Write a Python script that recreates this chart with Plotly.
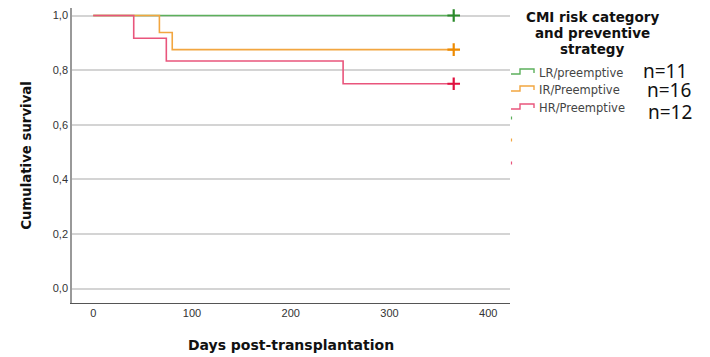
import plotly.graph_objects as go

# ---- data ----
groups = ["LR/preemptive", "IR/Preemptive", "HR/Preemptive"]
n_labels = ["n=11", "n=16", "n=12"]
legend_title = ["CMI risk category", "and preventive", "strategy"]
days_LR = [0, 365]
surv_LR = [1.0, 1.0]
days_IR = [0, 67, 80, 365]
surv_IR = [1.0, 0.9375, 0.875, 0.875]
days_HR = [0, 41, 74, 253, 365]
surv_HR = [1.0, 0.9167, 0.8333, 0.75, 0.75]
censor_day = [365, 365, 365]
censor_surv = [1.0, 0.875, 0.75]
x_ticks = [0, 100, 200, 300, 400]
y_ticks = [0.0, 0.2, 0.4, 0.6, 0.8, 1.0]

line_colors = ["#5cb05c", "#f2a640", "#e9557c"]
mark_colors = ["#2a8a2a", "#ee8a00", "#e0103f"]

series = [(days_LR, surv_LR), (days_IR, surv_IR), (days_HR, surv_HR)]

BOLD = "DejaVu Sans, Liberation Sans, sans-serif"

# page has an 8px body margin; size the figure to fill the window
OFF = 8
W, H = 710 - OFF, 357 - OFF
L, R, T, B = 64, 200, 0, 54
PW, PH = W - L - R, H - T - B

fig = go.Figure()
for i, (d, s) in enumerate(series):
    fig.add_trace(go.Scatter(x=d, y=s, mode="lines", line=dict(color=line_colors[i], width=1.6, shape="hv"),
                             showlegend=False, hoverinfo="skip"))
for i in range(3):
    fig.add_trace(go.Scatter(x=[censor_day[i]], y=[censor_surv[i]], mode="markers",
                             marker=dict(symbol="cross-thin", size=9, line=dict(color=mark_colors[i], width=2.2)),
                             showlegend=False, hoverinfo="skip", cliponaxis=False))

fig.update_layout(
    width=W, height=H,
    margin=dict(l=L, r=R, t=T, b=B, autoexpand=False),
    plot_bgcolor="white", paper_bgcolor="white",
    separators=",.",
    font=dict(family="Liberation Sans, Arial, sans-serif", color="#333"),
    xaxis=dict(range=[-21.5, 422], tickvals=x_ticks, showgrid=False, zeroline=False, automargin=False,
               showline=True, linecolor="#555", linewidth=1, ticks="", tickfont=dict(size=11, color="#333"),
               title=dict(text="<b>Days post-transplantation</b>", font=dict(size=14, color="#111", family=BOLD),
                          standoff=21)),
    yaxis=dict(range=[-0.053, 1.0275], tickvals=y_ticks, tickformat=".1f", showgrid=True, automargin=False,
               gridcolor="#d4d4d4", gridwidth=1.5, zeroline=False, showline=True, linecolor="#999",
               linewidth=1.6, ticks="", tickfont=dict(size=11, color="#333"),
               title=dict(text="<b>Cumulative survival</b>", font=dict(size=13.3, color="#111", family=BOLD),
                          standoff=18)),
)


def px(x):
    return (x - OFF - L) / PW


def py(y):
    return 1 - (y - OFF - T) / PH


# legend title
title_y = [17, 33, 49]
for txt, ty in zip(legend_title, title_y):
    fig.add_annotation(xref="paper", yref="paper", x=px(592), y=py(ty), text=f"<b>{txt}</b>", showarrow=False,
                       font=dict(size=13.5, color="#111", family=BOLD), xanchor="center", yanchor="middle")

# legend rows
row_y = [74, 91, 109]
n_x = [641, 645, 646]
n_y = [71, 90, 112]
cens_y = [118, 140, 163]
for i in range(3):
    yb = row_y[i]
    fig.add_shape(type="path", xref="paper", yref="paper",
                  path=f"M {px(511)},{py(yb)} L {px(520)},{py(yb)} L {px(520)},{py(yb-5)} L {px(534)},{py(yb-5)} L {px(534)},{py(yb-1)}",
                  line=dict(color=line_colors[i], width=1.4))
    fig.add_shape(type="line", xref="paper", yref="paper", x0=px(511.5), x1=px(511.5),
                  y0=py(cens_y[i] - 1.5), y1=py(cens_y[i] + 1.5), line=dict(color=line_colors[i], width=1.2))
    fig.add_annotation(xref="paper", yref="paper", x=px(537), y=py(yb - 1), text=groups[i], showarrow=False,
                       xanchor="left", yanchor="middle", font=dict(size=11.5, color="#444", family=BOLD))
    fig.add_annotation(xref="paper", yref="paper", x=px(n_x[i]), y=py(n_y[i]), text=n_labels[i], showarrow=False,
                       xanchor="left", yanchor="middle",
                       font=dict(size=19, color="#111", family="Noto Sans, Open Sans, sans-serif"))

fig.write_html("out.html")
